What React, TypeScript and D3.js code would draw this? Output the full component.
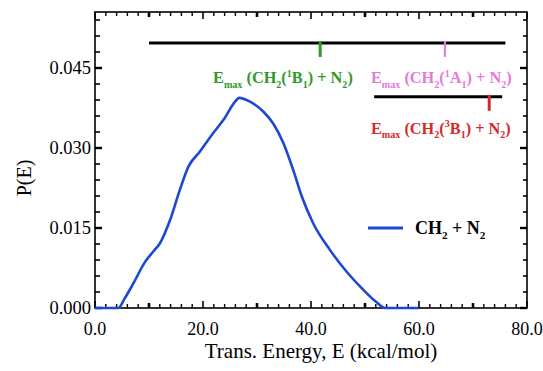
import React from "react";
import * as d3 from "d3";

// ---- data ----
const energy = [0, 4.3, 5.5, 7.1, 9.3, 10.8, 12.0, 13.9, 15.7, 17.3, 19.4, 21.9, 23.8, 26.2, 26.7, 28.7, 31.2, 33.0, 34.9, 36.7, 38.3, 40.4, 43.5, 46.6, 49.7, 52.0, 53.8, 60.0];
const prob = [0, 0, 0.0018, 0.0046, 0.0087, 0.0106, 0.0121, 0.0165, 0.0221, 0.0265, 0.0293, 0.0328, 0.0353, 0.0390, 0.0394, 0.0387, 0.0368, 0.0346, 0.0309, 0.0259, 0.0209, 0.0159, 0.0109, 0.0068, 0.0034, 0.0012, 0, 0];

const barStart = [10, 51.7];
const barEnd = [76, 75.4];
const barLevel = [0.0497, 0.0396];

const emaxValues = [41.7, 64.8, 73.0];
const emaxLevel = [0.0497, 0.0497, 0.0396];
const emaxColors = ["#2e9a2a", "#e57ad9", "#d42a2a"];
const emaxStates = [["1", "B"], ["1", "A"], ["3", "B"]];
const emaxLabelX = [34.8, 51.1, 51.1];
const emaxLabelY = [0.0421, 0.0421, 0.0327];
const emaxAnchor = ["middle", "start", "start"];

const xMajor = [0, 20, 40, 60, 80];
const xTickLabels = ["0.0", "20.0", "40.0", "60.0", "80.0"];
const yMajor = [0, 0.015, 0.03, 0.045];
const yTickLabels = ["0.000", "0.015", "0.030", "0.045"];

const seriesName = "CH2 + N2";

// ---- layout ----
const W = 543, H = 371;
const L = 95, R = 527, T = 12, B = 308;
const x = d3.scaleLinear().domain([0, 80]).range([L, R]);
const y = d3.scaleLinear().domain([0, 0.0555]).range([B, T]);

const serif = "Liberation Serif, DejaVu Serif, Times New Roman, serif";
const fontStyle = { fontFamily: serif };

type Seg = { t: string; s?: "sub" | "sup" };

function Rich({ segs, size, ...rest }: any) {
  const out: any[] = [];
  let shift = 0;
  segs.forEach((sg: Seg, i: number) => {
    const target = sg.s === "sub" ? size * 0.3 : sg.s === "sup" ? -size * 0.38 : 0;
    const dy = target - shift;
    shift = target;
    out.push(
      <tspan key={i} dy={dy} fontSize={sg.s ? size * 0.62 : size}>
        {sg.t}
      </tspan>
    );
  });
  return <text fontSize={size} style={fontStyle} {...rest}>{out}</text>;
}

function emaxSegs(st: string[]): Seg[] {
  return [
    { t: "E" }, { t: "max", s: "sub" }, { t: " (CH" }, { t: "2", s: "sub" }, { t: "(" },
    { t: st[0], s: "sup" }, { t: st[1] }, { t: "1", s: "sub" }, { t: ") + N" }, { t: "2", s: "sub" }, { t: ")" },
  ];
}

export default function App() {
  const line = d3.line<number>()
    .x((_, i) => x(energy[i]))
    .y((d) => y(d))
    .curve(d3.curveMonotoneX);

  const xMinor = d3.range(0, 80.001, 2).filter((v) => v % 10 !== 0);
  const xMid = [10, 30, 50, 70];
  const yMinor = d3.range(0, 0.0555, 0.003).filter((v) => Math.abs((v / 0.015) - Math.round(v / 0.015)) > 1e-6);

  const ticks: any[] = [];
  xMinor.forEach((v, i) => {
    ticks.push(<line key={"bm" + i} x1={x(v)} x2={x(v)} y1={B} y2={B - 4} stroke="#000" strokeWidth={1.4} />);
    ticks.push(<line key={"tm" + i} x1={x(v)} x2={x(v)} y1={T} y2={T + 4} stroke="#000" strokeWidth={1.4} />);
  });
  xMid.forEach((v, i) => {
    ticks.push(<line key={"bd" + i} x1={x(v)} x2={x(v)} y1={B} y2={B - 5} stroke="#000" strokeWidth={2.6} />);
    ticks.push(<line key={"td" + i} x1={x(v)} x2={x(v)} y1={T} y2={T + 5} stroke="#000" strokeWidth={2.6} />);
  });
  xMajor.forEach((v, i) => {
    ticks.push(<line key={"bM" + i} x1={x(v)} x2={x(v)} y1={B} y2={B - 7} stroke="#000" strokeWidth={1.6} />);
    ticks.push(<line key={"tM" + i} x1={x(v)} x2={x(v)} y1={T} y2={T + 7} stroke="#000" strokeWidth={1.6} />);
  });
  yMinor.forEach((v, i) => {
    ticks.push(<line key={"lm" + i} x1={L} x2={L + 5} y1={y(v)} y2={y(v)} stroke="#000" strokeWidth={1.6} />);
    ticks.push(<line key={"rm" + i} x1={R} x2={R - 4} y1={y(v)} y2={y(v)} stroke="#000" strokeWidth={1.6} />);
  });
  yMajor.forEach((v, i) => {
    ticks.push(<line key={"lM" + i} x1={L} x2={L + 7} y1={y(v)} y2={y(v)} stroke="#000" strokeWidth={2.4} />);
    ticks.push(<line key={"rM" + i} x1={R} x2={R - 7} y1={y(v)} y2={y(v)} stroke="#000" strokeWidth={2.4} />);
  });

  return (
    <svg width={W} height={H} style={{ position: "absolute", left: 0, top: 0, background: "#fff", fontFamily: serif }}>
      <rect x={0} y={0} width={W} height={H} fill="#fff" />
      {ticks}
      <rect x={L} y={T} width={R - L} height={B - T} fill="none" stroke="#000" strokeWidth={1.6} />

      {xMajor.map((v, i) => (
        <text key={"xl" + i} x={x(v)} y={335} fontSize={18} textAnchor="middle" style={fontStyle}>{xTickLabels[i]}</text>
      ))}
      {yMajor.map((v, i) => (
        <text key={"yl" + i} x={L - 4} y={y(v) + 6} fontSize={18.5} textAnchor="end" style={fontStyle}>{yTickLabels[i]}</text>
      ))}
      <text x={321} y={358} fontSize={21} textAnchor="middle" style={fontStyle}>Trans. Energy, E (kcal/mol)</text>
      <text transform={`translate(31,178) rotate(-90)`} fontSize={20} textAnchor="middle" style={fontStyle}>P(E)</text>

      {barStart.map((v, i) => (
        <line key={"bar" + i} x1={x(v)} x2={x(barEnd[i])} y1={y(barLevel[i])} y2={y(barLevel[i])} stroke="#000" strokeWidth={3} />
      ))}
      {emaxValues.map((v, i) => (
        <line key={"em" + i} x1={x(v)} x2={x(v)} y1={y(emaxLevel[i]) - 2} y2={y(emaxLevel[i]) + 14}
          stroke={emaxColors[i]} strokeWidth={i === 1 ? 2.2 : 3} />
      ))}
      {emaxValues.map((_, i) => (
        <Rich key={"eml" + i} segs={emaxSegs(emaxStates[i])} size={16.3} x={x(emaxLabelX[i])} y={y(emaxLabelY[i])}
          fill={emaxColors[i]} fontWeight="bold" textAnchor={emaxAnchor[i]} />
      ))}

      <path d={line(prob) || ""} fill="none" stroke="#1c48d2" strokeWidth={2.6} strokeLinejoin="round" />

      <line x1={368} x2={403} y1={228} y2={228} stroke="#1c48d2" strokeWidth={3} />
      <Rich segs={[{ t: "CH" }, { t: "2", s: "sub" }, { t: " + N" }, { t: "2", s: "sub" }]} size={18} x={415} y={234}
        fontWeight="bold" fill="#000" />
      <title>{seriesName}</title>
    </svg>
  );
}
